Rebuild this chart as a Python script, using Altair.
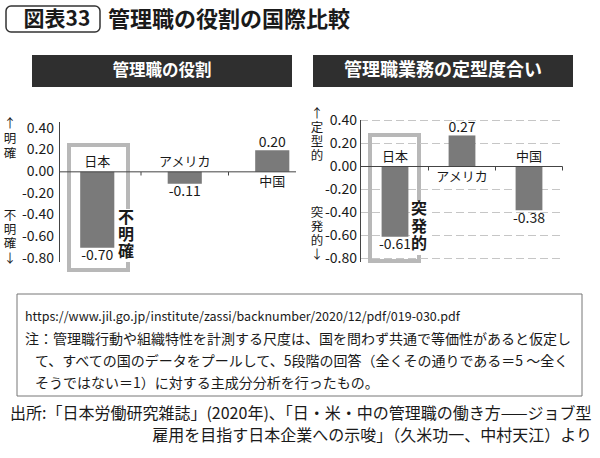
import altair as alt
import pandas as pd

# ---------------- data ----------------
countries = ["日本", "アメリカ", "中国"]
role_values = [-0.70, -0.11, 0.20]        # 管理職の役割
routine_values = [-0.61, 0.27, -0.38]     # 管理職業務の定型度合い
tick_values = [0.40, 0.20, 0.00, -0.20, -0.40, -0.60, -0.80]
tick_labels = ["0.40", "0.20", "0.00", "-0.20", "-0.40", "-0.60", "-0.80"]

title_tag = "図表33"
title_text = "管理職の役割の国際比較"
left_title = "管理職の役割"
right_title = "管理職業務の定型度合い"
left_up = ["↑", "明", "確"]
left_down = ["不", "明", "確", "↓"]
right_up = ["↑", "定", "型", "的"]
right_down = ["突", "発", "的", "↓"]
left_callout = ["不", "明", "確"]
right_callout = ["突", "発", "的"]
note_lines = [
    "https://www.jil.go.jp/institute/zassi/backnumber/2020/12/pdf/019-030.pdf",
    "注：管理職行動や組織特性を計測する尺度は、国を問わず共通で等価性があると仮定し",
    "て、すべての国のデータをプールして、5段階の回答（全くその通りである＝5 〜全く",
    "そうではない＝1）に対する主成分分析を行ったもの。",
]
source_lines = [
    "出所:「日本労働研究雑誌」(2020年)、「日・米・中の管理職の働き方——ジョブ型",
    "雇用を目指す日本企業への示唆」（久米功一、中村天江）より",
]

FONT = "Noto Sans CJK JP"
TXT = "#1a1a1a"
BAR = "#7a7a7a"
BOX = "#b8b8b8"


def panel_df(values):
    return pd.DataFrame({
        "country": countries,
        "value": values,
        "label": [f"{v:.2f}" for v in values],
        "zero": [0.0] * len(values),
    })


ticks_df = pd.DataFrame({"tick": tick_values, "label": tick_labels})


def txt(text, x, y, size=14, weight="normal", align="left", color=TXT, baseline="middle", lh=None):
    kw = dict(font=FONT, fontSize=size, fontWeight=weight, align=align, baseline=baseline, color=color)
    if lh is not None:
        kw["lineHeight"] = lh
    return alt.Chart().mark_text(**kw).encode(
        x=alt.value(x), y=alt.value(y), text=alt.value(text))


def vtext(chars, x, first_y, lh, size=12, weight="normal"):
    # one multi-line text, stacked vertically
    return txt(chars, x, first_y - lh / 2, size=size, weight=weight, align="center",
               baseline="top", lh=lh)


def rect(x, x2, y, y2, **kw):
    return alt.Chart().mark_rect(**kw).encode(
        x=alt.value(x), x2=alt.value(x2), y=alt.value(y), y2=alt.value(y2))


def rule(x, x2, y, y2, **kw):
    return alt.Chart().mark_rule(**kw).encode(
        x=alt.value(x), x2=alt.value(x2), y=alt.value(y), y2=alt.value(y2))


def panel(values, xs, ys, tick_label_x, zero_x, zero_x2, grid):
    df = panel_df(values)
    X = alt.X("country:N", scale=xs, axis=None)
    Y = alt.Y("value:Q", scale=ys, axis=None)
    Z = alt.Y("zero:Q", scale=ys, axis=None)
    layers = []
    if grid:
        layers.append(
            alt.Chart(ticks_df).transform_filter("datum.tick != 0")
            .mark_rule(color="#c6c6c6", strokeWidth=1, strokeDash=[8, 4])
            .encode(y=alt.Y("tick:Q", scale=ys, axis=None),
                    x=alt.value(zero_x), x2=alt.value(zero_x2))
        )
    layers.append(
        alt.Chart(df).mark_bar(color=BAR).encode(x=X, y=Y, y2="zero:Q")
    )
    layers.append(
        alt.Chart(df).transform_filter("datum.value < 0")
        .mark_text(font=FONT, fontSize=14, color=TXT, baseline="middle", dy=8.5)
        .encode(x=X, y=Y, text="label:N")
    )
    layers.append(
        alt.Chart(df).transform_filter("datum.value >= 0")
        .mark_text(font=FONT, fontSize=14, color=TXT, baseline="middle", dy=-7.5)
        .encode(x=X, y=Y, text="label:N")
    )
    layers.append(
        alt.Chart(df).transform_filter("datum.value < 0")
        .mark_text(font=FONT, fontSize=13, color=TXT, baseline="middle", dy=-9.5)
        .encode(x=X, y=Z, text="country:N")
    )
    layers.append(
        alt.Chart(df).transform_filter("datum.value >= 0")
        .mark_text(font=FONT, fontSize=13, color=TXT, baseline="middle", dy=10)
        .encode(x=X, y=Z, text="country:N")
    )
    layers.append(
        alt.Chart(ticks_df)
        .mark_text(font=FONT, fontSize=14, color=TXT, align="right", baseline="middle")
        .encode(x=alt.value(tick_label_x), y=alt.Y("tick:Q", scale=ys, axis=None), text="label:N")
    )
    layers.append(
        alt.Chart(df.head(1)).mark_rule(color="#444444", strokeWidth=1)
        .encode(y=Z, x=alt.value(zero_x), x2=alt.value(zero_x2))
    )
    return layers


left_x = alt.Scale(domain=countries, range=[53.5, 316], paddingInner=0.61, paddingOuter=0.305)
left_y = alt.Scale(domain=[-0.8, 0.4], range=[258.5, 128.5], nice=False, zero=False)
right_x = alt.Scale(domain=countries, range=[361.5, 562.5], paddingInner=0.6, paddingOuter=0.3)
right_y = alt.Scale(domain=[-0.8, 0.4], range=[258.5, 120.5], nice=False, zero=False)

layers = []

# header
layers.append(rect(6, 100, 6, 32, fill="white", stroke="#333333", strokeWidth=1.5, cornerRadius=5))
layers.append(txt(title_tag, 57, 19.5, size=21, weight="bold", align="center"))
layers.append(txt(title_text, 108, 19.5, size=22, weight="bold"))

# panel banners
layers.append(rect(32, 292, 55, 87, color="#2f2f2f"))
layers.append(txt(left_title, 162, 71, size=16.5, weight="bold", align="center", color="white"))
layers.append(rect(313, 573, 55, 87, color="#2f2f2f"))
layers.append(txt(right_title, 443, 71, size=18, weight="bold", align="center", color="white"))

# highlight boxes (behind bars)
layers.append(rect(69, 128, 145, 270, fillOpacity=0, stroke=BOX, strokeWidth=4))
layers.append(rect(370, 419, 135, 261, fillOpacity=0, stroke=BOX, strokeWidth=4))

# left panel
layers += panel(role_values, left_x, left_y, 54, 59, 296, grid=False)
layers.append(rule(59.5, 59.5, 122, 262, color="#444444", strokeWidth=1))
for tx in (141, 228.5):
    layers.append(rule(tx, tx, 172, 175.5, color="#444444", strokeWidth=1))

# right panel
layers += panel(routine_values, right_x, right_y, 357, 360, 562.5, grid=True)
layers.append(rule(360.5, 360.5, 120, 262, color="#444444", strokeWidth=1))
for tx in (428.5, 495.5, 562.5):
    layers.append(rule(tx, tx, 166.5, 170.5, color="#444444", strokeWidth=1))

# side annotations
layers.append(vtext(left_up, 10, 125, 15, size=12.5))
layers.append(vtext(left_down, 10, 217, 14.3, size=12.5))
layers.append(vtext(right_up, 317, 115, 14, size=12.5))
layers.append(vtext(right_down, 317, 214, 14, size=12.5))

# callouts
layers.append(rect(117, 135, 209, 262, color="white"))
layers.append(vtext(left_callout, 126, 218, 17, size=16, weight="bold"))
layers.append(rect(410, 428, 201, 255, color="white"))
layers.append(vtext(right_callout, 419, 210, 17.5, size=16, weight="bold"))

# note box
layers.append(rect(17, 582, 294, 396, fillOpacity=0, stroke="#777777", strokeWidth=1))
layers.append(txt(note_lines[0], 25, 317, size=12.5))
layers.append(txt(note_lines[1], 25, 340, size=14))
layers.append(txt(note_lines[2], 35, 362, size=14))
layers.append(txt(note_lines[3], 35, 384, size=14))

# source
layers.append(txt(source_lines[0], 10, 414, size=16))
layers.append(txt(source_lines[1], 592, 436, size=16, align="right"))

chart = alt.layer(*layers).resolve_scale(x="independent", y="independent").properties(
    width=600, height=458, padding=0,
    autosize=alt.AutoSizeParams(type="none"),
    background="white",
).configure_view(stroke=None)

chart.save("out.html", embed_options={"renderer": "svg", "actions": False})
